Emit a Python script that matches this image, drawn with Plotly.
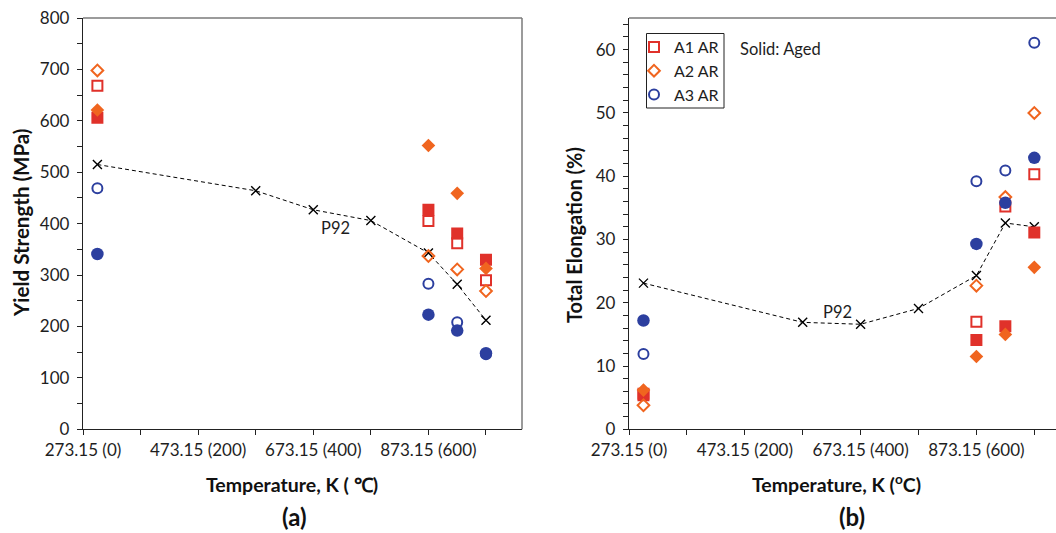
import plotly.graph_objects as go

# Test temperatures (K): room temperature, 600, 650 and 700 degC
temps_k = [298.15, 873.15, 923.15, 973.15]
# P92 reference steel temperatures (K)
p92_temps_k = [298.15, 573.15, 673.15, 773.15, 873.15, 923.15, 973.15]

# Yield strength (MPa)
ys_a1_ar = [668, 405, 362, 290]
ys_a1_aged = [606, 427, 381, 330]
ys_a2_ar = [698, 337, 311, 269]
ys_a2_aged = [621, 552, 459, 313]
ys_a3_ar = [469, 283, 208, 146]
ys_a3_aged = [341, 223, 192, 148]
ys_p92 = [515, 464, 427, 406, 343, 282, 212]

# Total elongation (%)
el_a1_ar = [5.6, 17.0, 35.2, 40.3]
el_a1_aged = [5.4, 14.1, 16.3, 31.1]
el_a2_ar = [3.8, 22.7, 36.7, 50.0]
el_a2_aged = [6.2, 11.5, 15.0, 25.6]
el_a3_ar = [11.9, 39.2, 40.9, 61.1]
el_a3_aged = [17.2, 29.3, 35.8, 42.9]
el_p92 = [23.1, 16.9, 16.6, 19.1, 24.3, 32.6, 32.0]

# Temperature axis: labelled ticks every 200 degC, minor ticks in between
x_tickvals = [273.15, 473.15, 673.15, 873.15]
x_ticktext = ["273.15 (0)", "473.15 (200)", "673.15 (400)", "873.15 (600)"]

RED = "#e0312a"
ORANGE = "#f0651f"
BLUE = "#2c3f9f"
FONT = "Lato"
TEXT = "#1e1e1e"

W, H = 1056, 533


def px_x(p):
    return p / W


def px_y(p):
    return 1 - p / H


series = [
    ("A1 AR", ys_a1_ar, el_a1_ar, dict(symbol="square-open", size=10, color=RED, line=dict(width=2, color=RED))),
    ("A1 Aged", ys_a1_aged, el_a1_aged, dict(symbol="square", size=12, color=RED, line=dict(width=0))),
    ("A2 AR", ys_a2_ar, el_a2_ar, dict(symbol="diamond-open", size=9, color=ORANGE, line=dict(width=2, color=ORANGE))),
    ("A2 Aged", ys_a2_aged, el_a2_aged, dict(symbol="diamond", size=10.5, color=ORANGE, line=dict(width=0))),
    ("A3 AR", ys_a3_ar, el_a3_ar, dict(symbol="circle-open", size=10, color=BLUE, line=dict(width=2, color=BLUE))),
    ("A3 Aged", ys_a3_aged, el_a3_aged, dict(symbol="circle", size=12.5, color=BLUE, line=dict(width=0))),
]

fig = go.Figure()

# P92 reference curves (drawn first, underneath the alloy data)
for xa, ya, vals in [("x", "y", ys_p92), ("x2", "y2", el_p92)]:
    fig.add_trace(go.Scatter(
        x=p92_temps_k, y=vals, xaxis=xa, yaxis=ya, mode="lines+markers",
        line=dict(color="black", width=1, dash="4px,3px"),
        marker=dict(symbol="x-thin-open", size=9, line=dict(width=1.4, color="black")),
        showlegend=False, name="P92",
    ))

for name, ys, el, mk in series:
    in_legend = name.endswith("AR")
    fig.add_trace(go.Scatter(x=temps_k, y=ys, xaxis="x", yaxis="y", mode="markers",
                             marker=mk, name=name, showlegend=False))
    fig.add_trace(go.Scatter(x=temps_k, y=el, xaxis="x2", yaxis="y2", mode="markers",
                             marker=mk, name=name, showlegend=in_legend))

# Plot areas (pixel geometry)
L1, R1 = 83, 522
L2, R2 = 629, 1056
TOP, BOT = 18, 429.3
px_per_k_left = 0.5757
px_per_k_right = 0.579

axis_common = dict(
    automargin=False,
    showgrid=False, zeroline=False, showline=True, linecolor="#222", linewidth=1.3,
    ticks="outside", ticklen=5, tickwidth=1, tickcolor="#222",
    tickfont=dict(family=FONT, size=17, color=TEXT),
)
x_minor = dict(tick0=273.15, dtick=100, ticks="outside", ticklen=5, tickcolor="#222", showgrid=False)

fig.update_layout(
    template="none",
    width=W, height=H,
    margin=dict(l=0, r=0, t=0, b=0, pad=0, autoexpand=False),
    paper_bgcolor="white", plot_bgcolor="white",
    font=dict(family=FONT, color=TEXT),
    xaxis=dict(domain=[px_x(L1), px_x(R1)], anchor="y",
               range=[273.15, 273.15 + (R1 - L1) / px_per_k_left],
               tickmode="array", tickvals=x_tickvals, ticktext=x_ticktext,
               minor=x_minor, **axis_common),
    yaxis=dict(domain=[px_y(BOT), px_y(TOP)], anchor="x", range=[0, 800],
               tickmode="linear", tick0=0, dtick=100, ticklabelstandoff=4,
               minor=dict(dtick=50, ticks="outside", ticklen=5, tickcolor="#222", showgrid=False),
               **axis_common),
    xaxis2=dict(domain=[px_x(L2), px_x(R2)], anchor="y2",
                range=[273.15, 273.15 + (R2 - L2) / px_per_k_right],
                tickmode="array", tickvals=x_tickvals, ticktext=x_ticktext,
                minor=x_minor, **axis_common),
    yaxis2=dict(domain=[px_y(BOT), px_y(TOP)], anchor="x2", range=[0, 65],
                tickmode="linear", tick0=0, dtick=10, ticklabelstandoff=4,
                minor=dict(dtick=2, ticks="outside", ticklen=5, tickcolor="#222", showgrid=False),
                **axis_common),
    legend=dict(
        x=px_x(634), y=px_y(30), xanchor="left", yanchor="top",
        bgcolor="rgba(0,0,0,0)", borderwidth=0,
        font=dict(family=FONT, size=16, color=TEXT),
        itemwidth=30,
    ),
)

# Grey frame on the top/right of each plot area, legend box
frame = dict(color="#7a7a7a", width=1.5)
fig.add_shape(type="line", xref="x domain", yref="y domain", x0=0, x1=1, y0=1, y1=1, line=frame)
fig.add_shape(type="line", xref="x domain", yref="y domain", x0=1, x1=1, y0=0, y1=1, line=frame)
fig.add_shape(type="line", xref="x2 domain", yref="y2 domain", x0=0, x1=1, y0=1, y1=1, line=frame)
fig.add_shape(type="rect", xref="paper", yref="paper",
              x0=px_x(646.5), x1=px_x(724), y0=px_y(108), y1=px_y(33.5),
              line=dict(color="#222", width=1))

title_font = dict(family=FONT, size=19.5, color="#111")
ann = [
    dict(text="<b>Yield Strength (MPa)</b>", x=px_x(21.5), y=px_y(223.5), textangle=-90,
         font=dict(family=FONT, size=20.5, color="#111")),
    dict(text="<b>Total Elongation (%)</b>", x=px_x(574), y=px_y(235), textangle=-90,
         font=dict(family=FONT, size=20, color="#111")),
    dict(text="<b>Temperature, K ( \u2103)</b>", x=px_x(291.7), y=px_y(484), font=title_font),
    dict(text="<b>Temperature, K (<sup>o</sup>C)</b>", x=px_x(836.7), y=px_y(483), font=title_font),
    dict(text="<b>(a)</b>", x=px_x(294), y=px_y(516.5), font=dict(family=FONT, size=24, color="#111")),
    dict(text="<b>(b)</b>", x=px_x(852), y=px_y(516.5), font=dict(family=FONT, size=24, color="#111")),
    dict(text="Solid: Aged", x=px_x(738), y=px_y(49.3), xanchor="left",
         font=dict(family=FONT, size=16.5, color=TEXT)),
]
for a in ann:
    a.setdefault("xanchor", "center")
    fig.add_annotation(xref="paper", yref="paper", yanchor="middle", showarrow=False, **a)

# P92 labels placed in data coordinates
fig.add_annotation(text="P92", xref="x", yref="y", x=710.9, y=391, showarrow=False,
                   font=dict(family=FONT, size=16.5, color=TEXT))
fig.add_annotation(text="P92", xref="x2", yref="y2", x=632.4, y=18.55, showarrow=False,
                   font=dict(family=FONT, size=16.5, color=TEXT))

fig.write_html("out.html")
